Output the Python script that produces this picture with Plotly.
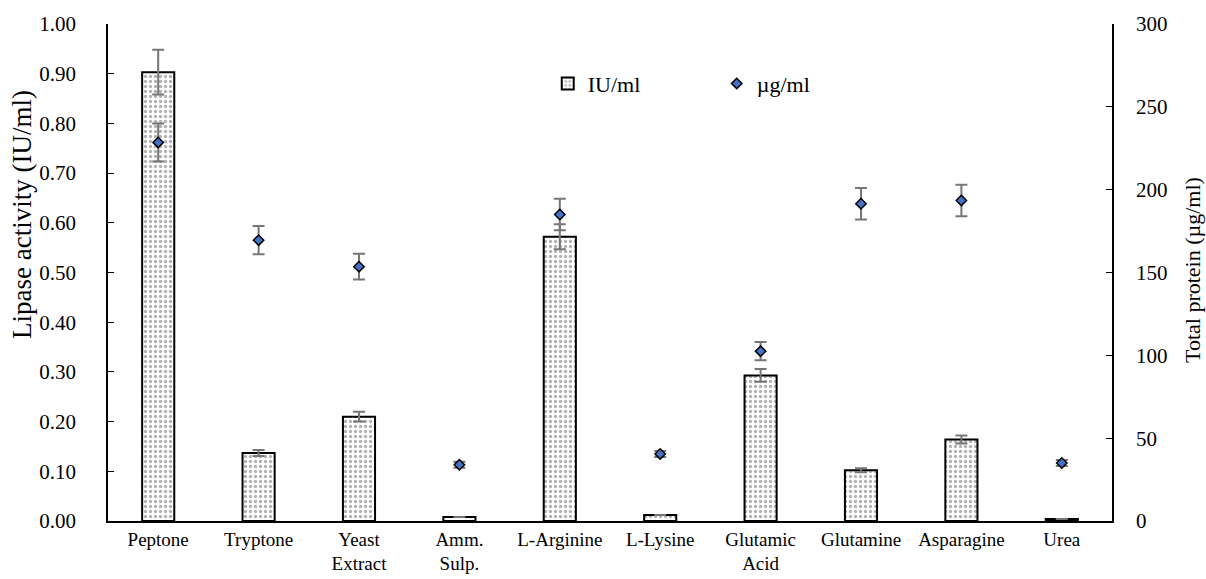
import plotly.graph_objects as go

categories = ["Peptone", "Tryptone", "Yeast<br>Extract", "Amm.<br>Sulp.", "L-Arginine",
              "L-Lysine", "Glutamic<br>Acid", "Glutamine", "Asparagine", "Urea"]
lipase = [0.903, 0.137, 0.210, 0.008, 0.572, 0.012, 0.293, 0.102, 0.164, 0.004]
lipase_err = [0.045, 0.006, 0.010, 0.0, 0.025, 0.0, 0.013, 0.004, 0.008, 0.0]
protein = [228.5, 169.5, 153.5, 34.0, 185.0, 40.5, 102.5, 191.5, 193.5, 35.0]
protein_err = [11.5, 8.5, 7.8, 1.8, 9.5, 1.8, 5.5, 9.5, 9.5, 1.8]
left_ticks = [0.0, 0.1, 0.2, 0.3, 0.4, 0.5, 0.6, 0.7, 0.8, 0.9, 1.0]
right_ticks = [0, 50, 100, 150, 200, 250, 300]

FONT = "Liberation Serif"
ERR_COLOR = "#767676"

fig = go.Figure()
fig.add_trace(go.Bar(
    x=categories, y=lipase, name="IU/ml", width=0.32,
    marker=dict(color="white", line=dict(color="black", width=2),
                pattern=dict(shape=".", size=5, solidity=0.35, fgcolor="#666666", bgcolor="white")),
    error_y=dict(type="data", array=lipase_err, visible=True, color=ERR_COLOR, thickness=2, width=6),
))
fig.add_trace(go.Scatter(
    x=categories, y=protein, name="µg/ml", mode="markers", yaxis="y2",
    marker=dict(symbol="diamond", size=8, color="#4472C4", line=dict(color="black", width=1.5)),
    error_y=dict(type="data", array=protein_err, visible=True, color=ERR_COLOR, thickness=2, width=6),
))

fig.update_layout(
    width=1206, height=579,
    margin=dict(l=108, r=94, t=24, b=58),
    plot_bgcolor="white", paper_bgcolor="white",
    font=dict(family=FONT, size=19, color="black"),
    showlegend=True,
    legend=dict(orientation="h", x=0.438, y=0.88, xanchor="left", yanchor="middle",
                font=dict(family=FONT, size=22), entrywidth=124, entrywidthmode="pixels",
                bgcolor="rgba(0,0,0,0)", itemwidth=30),
    xaxis=dict(showline=True, linecolor="black", linewidth=1.5, ticks="", showgrid=False,
               tickfont=dict(family=FONT, size=19), range=[-0.5, 9.5],
               ticklabelstandoff=0, automargin=False),
    yaxis=dict(range=[0, 1.0], tickvals=left_ticks, tickformat=".2f", showline=True,
               linecolor="black", linewidth=1.5, ticks="inside", ticklen=6, tickcolor="black",
               showgrid=False, zeroline=False, tickfont=dict(family=FONT, size=21),
               ticklabelstandoff=26, automargin=False),
    yaxis2=dict(range=[0, 300], tickvals=right_ticks, overlaying="y", side="right", showline=True,
                linecolor="black", linewidth=1.5, ticks="inside", ticklen=6, tickcolor="black",
                showgrid=False, zeroline=False, tickfont=dict(family=FONT, size=21),
                ticklabelstandoff=18, automargin=False),
    annotations=[
        dict(text="Lipase activity (IU/ml)", textangle=-90, xref="paper", yref="paper",
             x=(22 - 108) / 1004, y=(521 - 215) / 497, xanchor="center", yanchor="middle",
             showarrow=False, font=dict(family=FONT, size=27)),
        dict(text="Total protein (µg/ml)", textangle=-90, xref="paper", yref="paper",
             x=(1192 - 108) / 1004, y=(521 - 270) / 497, xanchor="center", yanchor="middle",
             showarrow=False, font=dict(family=FONT, size=22)),
    ],
)

fig.write_html("out.html")
